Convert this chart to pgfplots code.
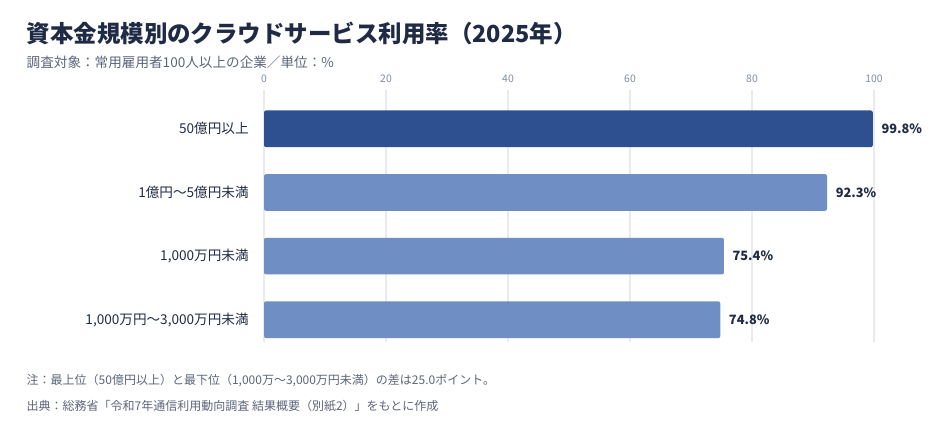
\documentclass[border=0pt]{standalone}
\usepackage{fontspec}
\setmainfont{Noto Sans CJK JP}
\usepackage{pgfplots}
\pgfplotsset{compat=1.18}

\definecolor{titlecol}{HTML}{1F2A44}
\definecolor{subcol}{HTML}{5B6579}
\definecolor{tickcol}{HTML}{7D8CA8}
\definecolor{gridcol}{HTML}{E9EBF2}
\definecolor{bardark}{HTML}{2E5090}
\definecolor{barlight}{HTML}{6F8FC4}

\begin{document}
\begin{tikzpicture}[x=0.75pt,y=0.75pt]
% frame in px, y up
\path (0,0) rectangle (945,435);

\node[anchor=west,text=titlecol,font=\fontsize{17.6}{19}\selectfont\bfseries] at (22,402) {資本金規模別のクラウドサービス利用率（2025年）};
\node[anchor=west,text=subcol,font=\fontsize{10.2}{12}\selectfont] at (22,373) {調査対象：常用雇用者100人以上の企業／単位：\%};

\begin{axis}[
    at={(198pt,69.75pt)}, anchor=south west,
    scale only axis,
    width=457.5pt, height=189pt,
    xbar,
    xmin=0, xmax=100,
    ymin=-0.61, ymax=3.35,
    y dir=reverse,
    bar width=27.5pt,
    xtick={0,20,40,60,80,100},
    xticklabel pos=upper,
    ytick={0,1,2,3},
    yticklabels={50億円以上,1億円～5億円未満,{1,000万円未満},{1,000万円～3,000万円未満}},
    xmajorgrids=true,
    grid style={gridcol, line width=1pt},
    axis line style={draw=none},
    major tick length=0pt,
    /pgf/number format/assume math mode=true,
    xticklabel style={text=tickcol, font=\fontsize{7.8}{9}\selectfont, yshift=2pt},
    yticklabel style={text=titlecol, font=\fontsize{10.2}{12}\selectfont, xshift=-8pt},
    nodes near coords={\pgfmathprintnumber[fixed,precision=1,fixed zerofill]{\pgfplotspointmeta}\%},
    point meta=x,
    every node near coord/.append style={anchor=west, xshift=3pt, text=titlecol, font=\fontsize{9.6}{12}\selectfont\bfseries, /pgf/number format/assume math mode=true},
    clip=false,
]
\addplot[fill=bardark, draw=none, bar shift=0pt, rounded corners=1.5pt] coordinates {(99.8,0)};
\addplot[fill=barlight, draw=none, bar shift=0pt, rounded corners=1.5pt] coordinates {(92.3,1) (75.4,2) (74.8,3)};
\end{axis}

\node[anchor=west,text=subcol,font=\fontsize{9}{10}\selectfont] at (22,54) {注：最上位（50億円以上）と最下位（1,000万～3,000万円未満）の差は25.0ポイント。};
\node[anchor=west,text=subcol,font=\fontsize{9}{10}\selectfont] at (22,29) {出典：総務省「令和7年通信利用動向調査 結果概要（別紙2）」をもとに作成};
\end{tikzpicture}
\end{document}
